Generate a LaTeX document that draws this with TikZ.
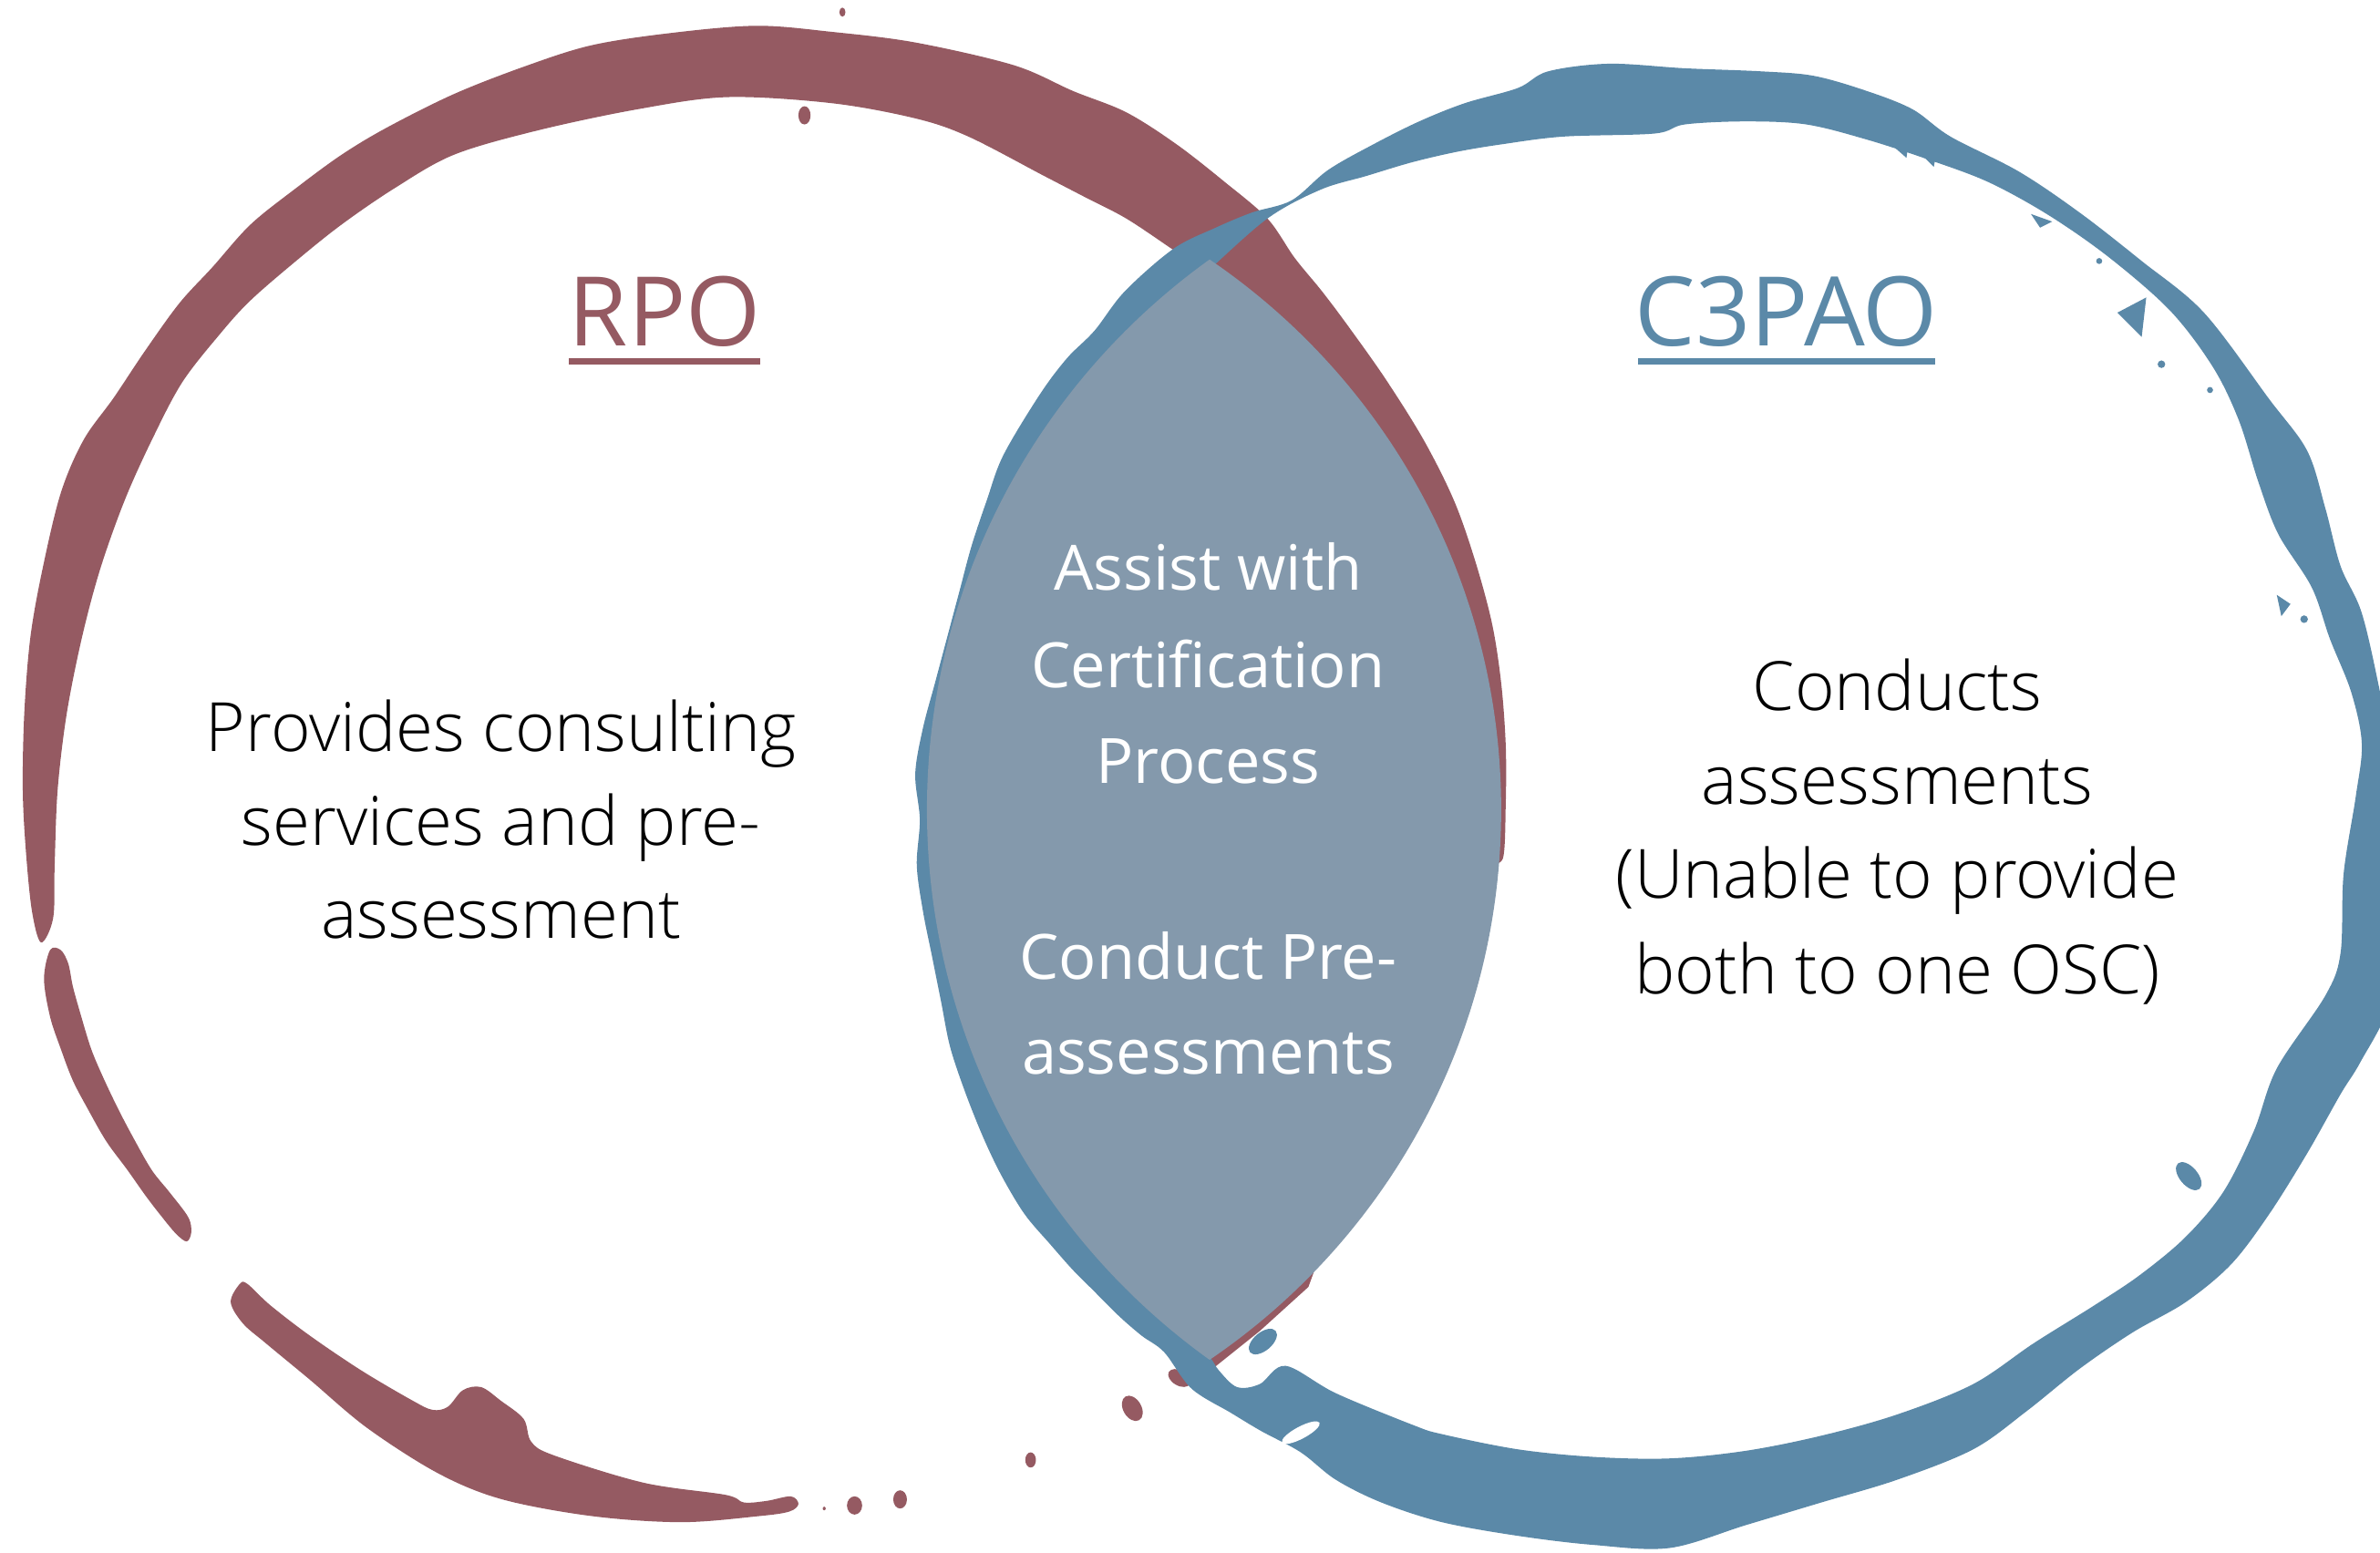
\documentclass[tikz,border=0pt]{standalone}
\usepackage{fontspec}
\setmainfont{Open Sans}
\IfFontExistsTF{Open Sans Light}{\newfontfamily\lightfont{Open Sans Light}\def\bodysize{21.2}}{\newfontfamily\lightfont{Open Sans}\def\bodysize{20.5}}
\definecolor{rpo}{HTML}{955A62}
\definecolor{cpao}{HTML}{5B89A8}
\definecolor{lensc}{HTML}{8499AC}
\begin{document}
\begin{tikzpicture}[x=0.0166518cm, y=-0.0166518cm,
  body/.style={font=\lightfont\fontsize{\bodysize}{29.5}\selectfont, text=black, inner sep=0pt, anchor=base},
  mid/.style={font=\fontsize{19.5}{30}\selectfont, text=white, inner sep=0pt, anchor=base},
  title/.style={font=\fontsize{30}{36}\selectfont, inner sep=0pt, anchor=base},
  band/.style={smooth cycle, tension=0.55}]
\useasboundingbox (0,0) rectangle (1568,1023);
\clip (0,0) rectangle (1568,1023);
% ---------------- red ring (RPO)
\fill[rpo] plot[band] coordinates {(27,621) (21,600) (17,560) (15,520) (16,470) (20,420) (28,375) (40,325) (55,290) (75,262) (95,232) (118,200) (140,176) (165,148) (195,124) (225,102) (255,84) (299,62) (345,44) (389,30) (440,22) (498,17) (548,21) (603,28) (668,43) (707,60) (742,74) (775,95) (807,120) (835,144) (853,170) (871,192) (889,216) (913,250) (938,290) (958,330) (972,370) (983,411) (989,450) (992,491) (992,530) (990,566)
 (980,560) (980,500) (968,430) (949,370) (918,310) (884,262) (843,218) (801,184) (772,164) (742,144) (715,130) (688,116) (638,90) (603,78) (548,68) (479,64) (420,72) (354,86) (299,102) (260,124) (225,148) (195,172) (165,198) (145,220) (120,252) (100,290) (82,330) (66,375) (54,420) (44,470) (38,520) (36,570) (35,605)};
\fill[rpo] plot[band] coordinates {(33,626) (29,645) (33,670) (40,691) (48,712) (58,731) (70,752) (84,771) (96,788) (106,801) (116,813) (123,818)
 (126,812) (124,802) (112,786) (100,771) (88,750) (78,731) (68,710) (60,691) (53,668) (48,650) (45,635) (40,626)};
\fill[rpo] plot[band] coordinates {(158,846) (152,858) (160,872) (175,885) (204,909) (242,941) (289,971) (331,988) (390,999) (449,1003) (500,999) (520,996) (526,991)
 (521,986) (505,989) (490,990) (478,985) (424,977) (365,959) (350,950) (345,935) (330,923) (317,914) (305,916) (295,927) (285,929) (272,923) (238,903) (204,880) (178,860) (163,846)};
\fill[rpo] (866,837) -- (862,848) -- (830,877) -- (800,901) -- (792,893) -- (858,838) -- cycle;
\fill[rpo, rotate around={-30:(777,908)}] (777,908) ellipse (8 and 5);
\fill[rpo, rotate around={30:(746,928)}] (746,928) ellipse (6 and 9);
\fill[rpo] (679,962) ellipse (3.5 and 5);
\fill[rpo] (593,988) ellipse (4.5 and 6);
\fill[rpo] (563,992) ellipse (5 and 6);
\fill[rpo] (543,994) ellipse (1 and 1.2);
\fill[rpo] (530,76) ellipse (4 and 6);
\fill[rpo] (555,8) ellipse (2 and 3);
% ---------------- blue ring (C3PAO)
\fill[cpao, even odd rule]
 plot[band] coordinates {(851,132) (875,112) (905,95) (935,80) (965,68) (1000,58) (1020,47) (1060,42) (1110,45) (1160,47) (1195,50) (1230,60) (1260,72) (1285,90) (1330,113) (1370,140) (1411,172) (1452,206) (1495,263) (1520,297) (1532,335) (1542,373) (1556,404) (1568,456) (1580,520) (1585,600) (1575,660) (1555,700) (1542,721) (1520,760) (1495,800) (1470,833) (1440,858) (1405,878) (1370,902) (1335,930) (1300,955) (1250,975) (1200,990) (1150,1005) (1100,1020) (1050,1018) (1000,1012) (950,1003) (910,990) (880,975) (857,957) (831,943) (811,931) (785,915) (767,891) (752,880) (737,867) (720,850) (707,837) (692,820) (675,800) (660,775) (648,750) (636,720) (626,690) (620,660) (614,630) (608,600) (604,570) (606,540) (603,510) (608,480) (616,450) (624,420) (632,390) (640,360) (650,330) (661,300) (685,260) (703,236) (721,218) (741,192) (773,164) (801,150) (825,140)}
 plot[band] coordinates {(835,144) (870,125) (900,116) (930,107) (960,100) (990,95) (1030,90) (1090,88) (1110,82) (1150,80) (1190,82) (1230,92) (1270,105) (1310,120) (1350,142) (1390,170) (1430,205) (1458,242) (1475,277) (1488,318) (1501,352) (1523,387) (1535,421) (1549,456) (1556,490) (1552,525) (1544,576) (1542,628) (1532,656) (1500,704) (1485,745) (1465,785) (1440,815) (1410,840) (1380,860) (1340,885) (1300,912) (1250,932) (1200,946) (1150,956) (1100,961) (1050,960) (1000,955) (950,945) (931,939) (880,918) (847,900) (830,912) (815,914) (803,903) (796,893) (774,871) (742,841) (713,809) (674,750) (641,679) (621,598) (617,518) (627,438) (667,330) (712,260) (770,200) (794,180)};
\fill[white, rotate around={28:(857,944)}] (857,944) ellipse (14 and 4);
\fill[cpao, rotate around={40:(832,884)}] (832,884) ellipse (11 and 6);
\fill[cpao] (1395,206) -- (1414,196) -- (1411,222) -- cycle;
\fill[cpao] (1424,240) circle (2.5);
\fill[cpao] (1456,257) circle (2);
\fill[cpao] (1500,392) -- (1509,398) -- (1503,406) -- cycle;
\fill[cpao] (1518,408) circle (2.5);
\fill[cpao] (1248,97) -- (1258,90) -- (1256,104) -- cycle;
\fill[cpao] (1268,104) -- (1276,100) -- (1274,110) -- cycle;
\fill[cpao] (1338,141) -- (1352,146) -- (1344,150) -- cycle;
\fill[cpao] (1383,172) circle (2);
\fill[cpao] (1490,300) -- (1497,296) -- (1496,308) -- cycle;
\fill[cpao, rotate around={-50:(1442,775)}] (1442,775) ellipse (11 and 6);
% ---------------- lens: intersection of the two inner discs
\begin{scope}
  \clip (551,533.5) circle (438);
  \fill[lensc] (1056.6,533.5) circle (445.9);
\end{scope}
% ---------------- titles
\node[title, text=rpo] (rpo) at (438,228) {RPO};
\fill[rpo] (375,236) rectangle (501,240);
\node[title, text=cpao] (c3pao) at (1177,228) {C3PAO};
\fill[cpao] (1079,236) rectangle (1275,240);
% ---------------- texts
\node[body] (l1) at (330,495) {Provides consulting};
\node[body] (l2) at (330,557) {services and pre-};
\node[body] (l3) at (330,618) {assessment};
\node[body] (r1) at (1250,468) {Conducts};
\node[body] (r2) at (1250,530) {assessments};
\node[body] (r3) at (1250,592) {(Unable to provide};
\node[body] (r4) at (1250,655) {both to one OSC)};
\node[mid] (m1) at (796,389) {Assist with};
\node[mid] (m2) at (796,453) {Certification};
\node[mid] (m3) at (796,516) {Process};
\node[mid] (m4) at (796,645) {Conduct Pre-};
\node[mid] (m5) at (796,708) {assessments};
\end{tikzpicture}
\end{document}
